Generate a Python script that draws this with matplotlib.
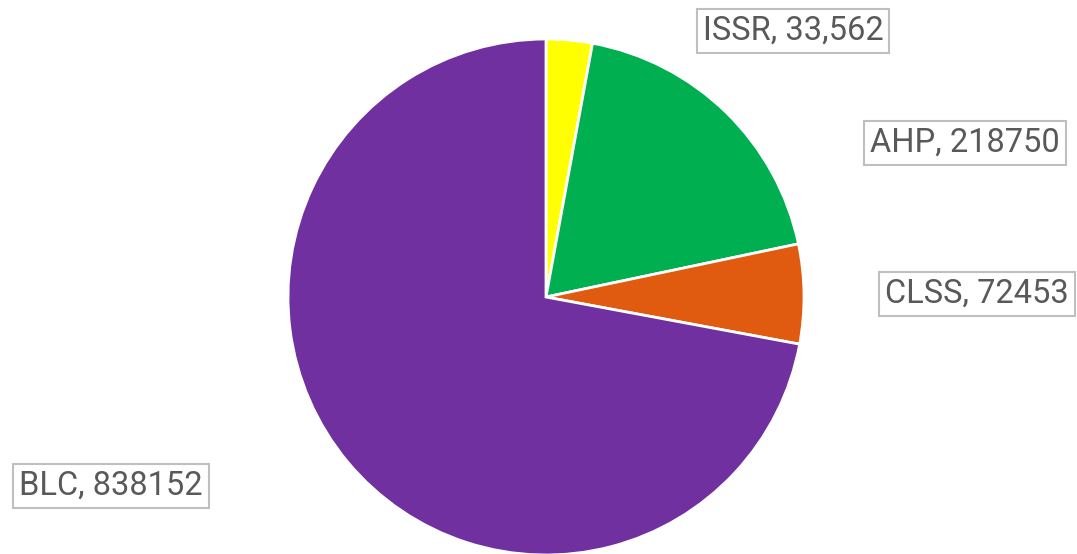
import matplotlib
matplotlib.use("Agg")
import matplotlib.pyplot as plt

# data
categories = ["ISSR", "AHP", "CLSS", "BLC"]
values = [33562, 218750, 72453, 838152]
value_labels = ["33,562", "218750", "72453", "838152"]
colors = ["#FFFF00", "#00B050", "#E05A10", "#7030A0"]

# label box centres in pixel coords (y from top)
label_pos = [(793, 31), (965, 143), (977, 294), (111, 486)]

W, H = 1077, 554
fig = plt.figure(figsize=(W / 100, H / 100), dpi=100)
ax = fig.add_axes([0, 0, 1, 1])

cx, cy, r = 546, H - 297, 258
ax.pie(values, colors=colors, startangle=90, counterclock=False,
       center=(cx, cy), radius=r,
       wedgeprops=dict(edgecolor="white", linewidth=2))

ax.set_xlim(0, W)
ax.set_ylim(0, H)
ax.set_aspect("auto")
ax.axis("off")

for cat, lab, (x, y) in zip(categories, value_labels, label_pos):
    ax.text(x, H - y, f"{cat}, {lab}", ha="center", va="center",
            fontsize=23.5, color="#595959", family="Roboto",
            bbox=dict(boxstyle="square,pad=0.18", facecolor="white",
                      edgecolor="#BFBFBF", linewidth=1.5))

fig.savefig("out.png", dpi=100)
